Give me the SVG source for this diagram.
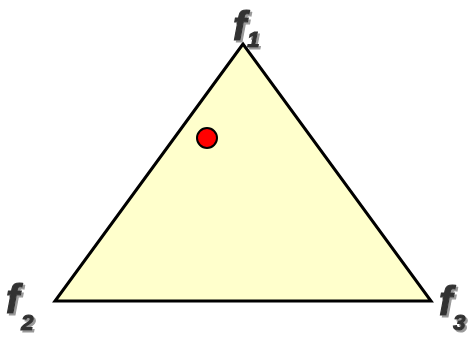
<svg xmlns="http://www.w3.org/2000/svg" width="472" height="339" viewBox="0 0 472 339">
<defs>
<filter id="shadow" x="-30%" y="-30%" width="160%" height="160%">
<feDropShadow dx="2" dy="2" stdDeviation="0.6" flood-color="#999999" flood-opacity="1"/>
</filter>
</defs>
<style>
.lbl{font-family:"Liberation Sans",Arial,sans-serif;font-weight:bold;font-style:italic;fill:#333333;stroke:#333333;stroke-width:1.2;filter:url(#shadow)}
.f{font-size:40px}
.s{font-size:22px}
</style>
<rect width="472" height="339" fill="#ffffff"/>
<g id="triangle">
<polygon points="243,44 55,301 431,301" fill="#ffffcc" stroke="#000000" stroke-width="3" stroke-linejoin="miter"/>
</g>
<g id="point">
<circle cx="207" cy="138" r="10" fill="#ff0000" stroke="#000000" stroke-width="2"/>
</g>
<g id="f1">
<text class="lbl" x="233" y="40"><tspan class="f">f</tspan><tspan class="s" dx="1" dy="7">1</tspan></text>
</g>
<g id="f2">
<text class="lbl" x="6" y="313"><tspan class="f">f</tspan><tspan class="s" dx="2" dy="17">2</tspan></text>
</g>
<g id="f3">
<text class="lbl" x="439" y="315"><tspan class="f">f</tspan><tspan class="s" dx="1" dy="15">3</tspan></text>
</g>
</svg>
